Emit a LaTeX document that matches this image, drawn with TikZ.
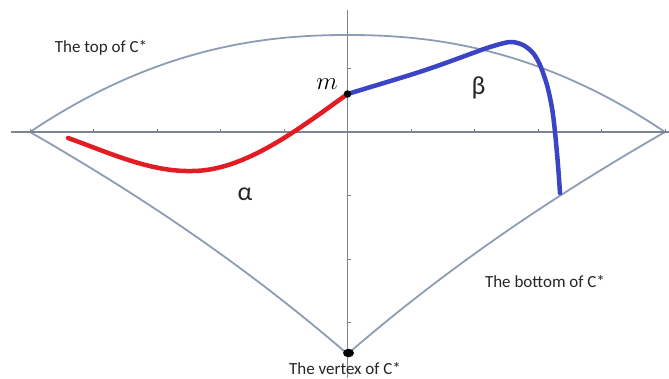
\documentclass[tikz,border=0pt]{standalone}
\usepackage{fontspec}
\setmainfont{Carlito}
\usetikzlibrary{shapes.geometric}
\definecolor{axisgray}{HTML}{7D8590}
\definecolor{bndblue}{HTML}{8C9DB5}
\definecolor{curvered}{HTML}{E31B23}
\definecolor{curveblue}{HTML}{3B44C4}
\begin{document}
\begin{tikzpicture}[x=1pt,y=-1pt,
  axisline/.style={draw=axisgray, line width=1.8pt},
  ticklet/.style={draw=axisgray, line width=1pt},
  boundary/.style={draw=bndblue, line width=1.8pt},
  alphacurve/.style={draw=curvered, line width=4.5pt, line cap=round},
  betacurve/.style={draw=curveblue, line width=4.5pt, line cap=round},
  lbl/.style={inner sep=0pt, text=black!85, font=\fontsize{17}{20}\selectfont},
  greek/.style={inner sep=0pt, text=black!85, font=\fontsize{26}{28}\selectfont}]
\useasboundingbox (0,0) rectangle (669,378);
\fill[white] (0,0) rectangle (669,378);
% key points
\coordinate (L) at (30,132);
\coordinate (R) at (665,132);
\coordinate (V) at (347.5,354);
% boundary curves of C*
\draw[boundary] plot[domain=-317.5:317.5, samples=90, smooth]
  ({347.5+\x},{35+97*abs(\x/317.5)^2.2});
\draw[boundary] (L) .. controls (136,193) and (241,262) .. (V);
\draw[boundary] (R) .. controls (559,193) and (454,262) .. (V);
% axes
\coordinate (xa) at (11,132);
\coordinate (xb) at (669,132);
\coordinate (ya) at (347.5,10);
\coordinate (yb) at (347.5,378);
\draw[axisline] (xa) -- (xb);
\draw[axisline] (ya) -- (yb);
\foreach \i in {-5,-4,-3,-2,-1,1,2,3,4,5}
  \draw[ticklet] ({347.5+63.5*\i},132) -- ++(0,-3.5);
\foreach \j in {-1,1,2,3}
  \draw[ticklet] (347.5,{132+63.5*\j}) -- ++(3.5,0);
% curves alpha and beta
\coordinate (a0) at (68,138);
\coordinate (amin) at (192,171);
\coordinate (mpt) at (347.5,94);
\draw[alphacurve] (a0) .. controls (110,153) and (150,172) .. (amin)
  .. controls (245,171) and (300,128) .. (mpt);
\draw[betacurve] plot[smooth, tension=0.5] coordinates {(347.5,94) (410,75) (440,65) (473,53) (490,47) (510,42) (523,45) (533,53) (540,65) (547,85) (552,108) (555,132) (558,165) (560,193)};
% dots
\node[circle, fill=black, inner sep=0pt, minimum size=7.5pt] (m) at (mpt) {};
\node[ellipse, fill=black, inner sep=0pt, minimum width=11pt, minimum height=8.5pt] (vdot) at (348.5,353) {};
% labels
\node[inner sep=0pt, font=\fontsize{25}{25}\selectfont] (mlab) at (327,84) {$m$};
\node[greek] (alpha) at (245,194) {α};
\node[greek] (beta) at (478.5,88) {β};
\node[lbl] (top) at (101,48) {The top of C*};
\node[lbl] (bottom) at (545,282) {The bottom of C*};
\node[lbl] (vtx) at (345,369) {The vertex of C*};
\end{tikzpicture}
\end{document}
